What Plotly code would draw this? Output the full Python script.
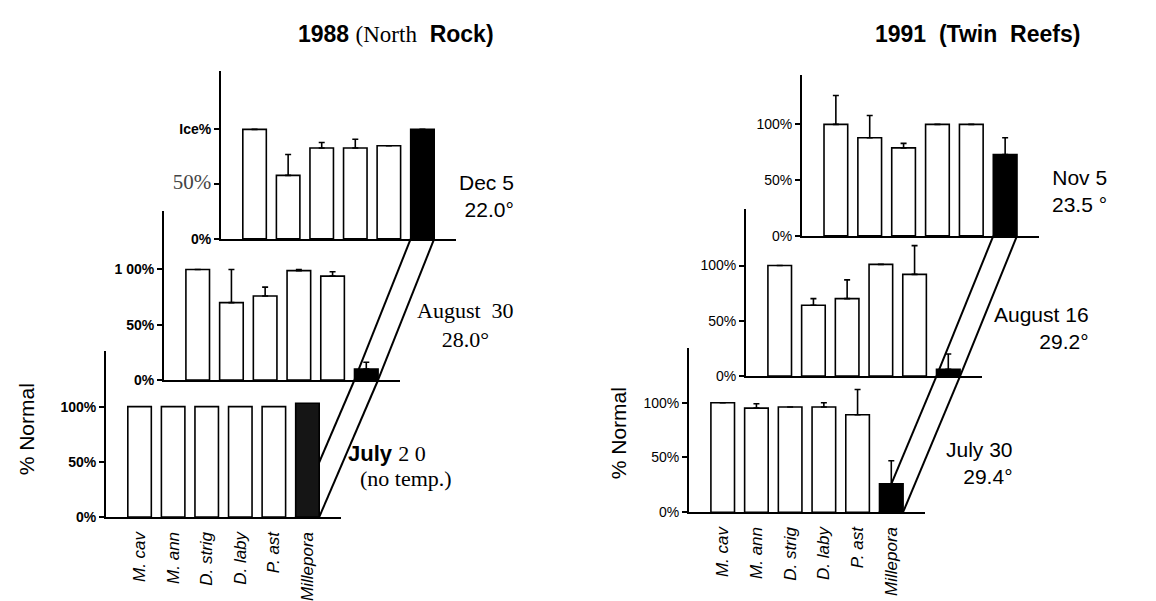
import plotly.graph_objects as go

W, H = 1156, 601

# ---------------- data ----------------
species = ["M. cav", "M. ann", "D. strig", "D. laby", "P. ast", "Millepora"]

# 1988 North Rock
nr_jul20 = [100, 100, 100, 100, 100, 103]
nr_aug30 = [100, 70, 76, 99, 94, 10]
nr_aug30_err = [0, 30, 8, 1, 4, 6]
nr_dec5 = [100, 58, 83, 83, 85, 100]
nr_dec5_err = [0, 19, 5, 8, 0, 0]

# 1991 Twin Reefs
tr_jul30 = [100, 95, 96, 96, 89, 26]
tr_jul30_err = [0, 4, 0, 4, 23, 21]
tr_aug16 = [100, 64, 70, 101, 92, 6]
tr_aug16_err = [0, 6, 17, 0, 26, 14]
tr_nov5 = [100, 88, 79, 100, 100, 73]
tr_nov5_err = [26, 20, 4, 0, 0, 15]

left_ticks_bot = ["0%", "50%", "100%"]
left_ticks_mid = ["0%", "50%", "1 00%"]
left_ticks_top = ["0%", "<span style='font-family:Liberation Serif;font-size:21px;font-weight:normal;color:#444'>50%</span>", "Ice%"]
right_ticks = ["0%", "50%", "100%"]

# ---------------- layout frames (pixels) ----------------
SANS = "Arial, Liberation Sans, sans-serif"
SERIF = "Times New Roman, Liberation Serif, serif"
BARGAP = 0.3
XR = [-1, 6]

charts = [
    dict(vals=nr_jul20, err=None, mc="#151515", x0=98, x1=333, base=516, y100=404, top=348,
         tt=left_ticks_bot, bold=True, xl=True),
    dict(vals=nr_aug30, err=nr_aug30_err, mc="black", x0=156, x1=392, base=377, y100=265, top=206,
         tt=left_ticks_mid, bold=True, xl=False),
    dict(vals=nr_dec5, err=nr_dec5_err, mc="black", x0=213, x1=448, base=234, y100=123, top=64,
         tt=left_ticks_top, bold=True, xl=False),
    dict(vals=tr_jul30, err=tr_jul30_err, mc="black", x0=681, x1=917, base=511, y100=400, top=345,
         tt=right_ticks, bold=False, xl=True),
    dict(vals=tr_aug16, err=tr_aug16_err, mc="black", x0=738, x1=974, base=373, y100=261, top=204,
         tt=right_ticks, bold=False, xl=False),
    dict(vals=tr_nov5, err=tr_nov5_err, mc="black", x0=794, x1=1031, base=231, y100=118, top=68,
         tt=right_ticks, bold=False, xl=False),
]

fig = go.Figure()
layout = dict(width=W, height=H, margin=dict(l=0, r=0, t=0, b=0), autosize=False,
              paper_bgcolor="white", plot_bgcolor="rgba(0,0,0,0)", showlegend=False,
              bargap=BARGAP, font=dict(family=SANS, color="black"))

for i, c in enumerate(charts):
    k = i + 1
    xa = "x" if k == 1 else f"x{k}"
    ya = "y" if k == 1 else f"y{k}"
    ymax = 100.0 * (c["base"] - c["top"]) / (c["base"] - c["y100"])
    c["ymax"] = ymax
    colors = ["white"] * 5 + [c["mc"]]
    bar = dict(x=species, y=c["vals"], xaxis=xa, yaxis=ya,
               marker=dict(color=colors, line=dict(color="black", width=1.6)),
               hoverinfo="skip")
    if c["err"] is not None:
        bar["error_y"] = dict(type="data", array=c["err"], arrayminus=[0] * 6, symmetric=False,
                              color="black", thickness=1.6, width=3)
    fig.add_trace(go.Bar(**bar))

    xkey = "xaxis" if k == 1 else f"xaxis{k}"
    ykey = "yaxis" if k == 1 else f"yaxis{k}"
    layout[xkey] = dict(domain=[c["x0"] / W, c["x1"] / W], anchor=ya, type="category",
                        range=XR, showgrid=False, zeroline=False, showline=True,
                        linecolor="black", linewidth=2, ticks="",
                        showticklabels=c["xl"], tickangle=-90, ticklabelstandoff=6,
                        tickfont=dict(family=SANS, size=17, style="italic", color="black"))
    layout[ykey] = dict(domain=[1 - c["base"] / H, 1 - c["top"] / H], anchor=xa,
                        range=[0, ymax], showgrid=False, zeroline=False, showline=True,
                        linecolor="black", linewidth=2, ticks="outside", ticklen=5,
                        tickwidth=1.5, tickcolor="black",
                        tickvals=[0, 50, 100], ticktext=c["tt"],
                        tickfont=dict(family=SANS, size=14, color="black",
                                      weight="bold" if c["bold"] else "normal"))


def to_paper(c, xi, yv):
    px = c["x0"] + (xi - XR[0]) / (XR[1] - XR[0]) * (c["x1"] - c["x0"])
    py = c["base"] - yv / c["ymax"] * (c["base"] - c["top"])
    return px / W, 1 - py / H


shapes = []
half = (1 - BARGAP) / 2
mill = species.index("Millepora")
for group in ([2, 1, 0], [5, 4, 3]):
    for s in (-half, half):
        pts = [to_paper(charts[g], mill + s, 0) for g in group]
        for (ax0, ay0), (ax1, ay1) in zip(pts[:-1], pts[1:]):
            shapes.append(dict(type="line", xref="paper", yref="paper", x0=ax0, y0=ay0,
                               x1=ax1, y1=ay1, line=dict(color="black", width=2), layer="below"))
layout["shapes"] = shapes


def ann(text, px, py, size, family=SANS, xanchor="center", align="center", angle=0, **kw):
    return dict(text=text, x=px / W, y=1 - py / H, xref="paper", yref="paper", showarrow=False,
                xanchor=xanchor, yanchor="middle", align=align, textangle=angle,
                font=dict(family=family, size=size, color="black"), **kw)


annotations = [
    ann("<b>1988</b> <span style='font-family:Liberation Serif'>(North</span>  <b>Rock)</b>",
        288, 26, 23, xanchor="left"),
    ann("<b>1991  (Twin  Reefs)</b>", 865, 26, 23, xanchor="left"),
    ann("% Normal", 18, 427, 21, angle=-90),
    ann("% Normal", 610, 431, 21, angle=-90),
    ann("Dec 5<br>22.0°", 508, 191, 21, xanchor="right", align="right"),
    ann("August  30<br>28.0°", 457, 321, 22, family=SERIF),
    ann("<b>July</b> <span style='font-family:Liberation Serif'>2 0</span>", 338, 452, 22, xanchor="left"),
    ann("(no temp.)", 350, 477, 22, family=SERIF, xanchor="left"),
    ann("Nov 5<br>23.5 °", 1101, 185, 21, xanchor="right", align="right"),
    ann("August 16<br>29.2°", 1083, 324, 21, xanchor="right", align="right"),
    ann("July 30<br>29.4°", 1007, 461, 21, xanchor="right", align="right"),
]
layout["annotations"] = annotations

fig.update_layout(**layout)
fig.write_html("out.html")
